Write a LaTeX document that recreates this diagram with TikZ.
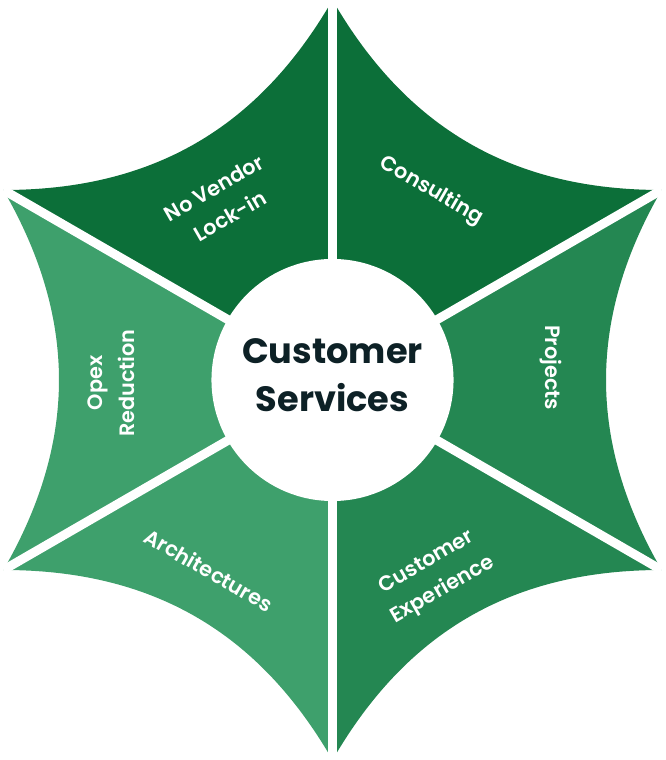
\documentclass[tikz,border=0pt]{standalone}
\usepackage{fontspec}
\setmainfont{Poppins}
\newfontfamily\medfont{Poppins SemiBold}
\definecolor{greenA}{RGB}{12, 111, 57}
\definecolor{greenB}{RGB}{36, 135, 82}
\definecolor{greenC}{RGB}{62, 160, 108}
\definecolor{inkA}  {RGB}{13, 33,  38}

\begin{document}
\begin{tikzpicture}[x=0.025cm, y=0.025cm,
    divider/.style={draw=white, line width=0.225cm},
    label/.style={text=white, align=center, font=\medfont\fontsize{14.8}{22.8}\selectfont}]
  \useasboundingbox (-332.5,-380) rectangle (332.5,380);

  \coordinate (O) at (0,0);
  \coordinate (A) at (90:380);
  \coordinate (B) at (150:380);
  \coordinate (C) at (210:380);
  \coordinate (D) at (270:380);
  \coordinate (E) at (330:380);
  \coordinate (F) at (30:380);

  \path[fill=greenA] (O) -- (A) to[bend left=30] (B) -- cycle;
  \path[fill=greenC] (O) -- (B) to[bend left=30] (C) -- cycle;
  \path[fill=greenC] (O) -- (C) to[bend left=30] (D) -- cycle;
  \path[fill=greenB] (O) -- (D) to[bend left=30] (E) -- cycle;
  \path[fill=greenB] (O) -- (E) to[bend left=30] (F) -- cycle;
  \path[fill=greenA] (O) -- (F) to[bend left=30] (A) -- cycle;

  \draw[divider] (O) -- (A);
  \draw[divider] (O) -- (B);
  \draw[divider] (O) -- (C);
  \draw[divider] (O) -- (D);
  \draw[divider] (O) -- (E);
  \draw[divider] (O) -- (F);

  \node[circle, fill=white, minimum size=6.05cm, inner sep=0pt] (hub) at (O) {};
  \node[text=inkA, align=center, font=\bfseries\fontsize{25}{34}\selectfont] (title) at (0,5) {Customer\\Services};

  \node[label, rotate=30]  (vendor)     at (-110.5,178)  {No Vendor\\Lock-in};
  \node[label, rotate=-30] (consulting) at (99.2,189)    {Consulting};
  \node[label, rotate=-90] (projects)   at (218.5,12.5)  {Projects};
  \node[label, rotate=90]  (opex)       at (-221.5,-3)   {Opex\\Reduction};
  \node[label, rotate=-30] (arch)       at (-123.5,-190) {Architectures};
  \node[label, rotate=30]  (experience) at (102.5,-196.7) {Customer\\Experience};
\end{tikzpicture}
\end{document}
